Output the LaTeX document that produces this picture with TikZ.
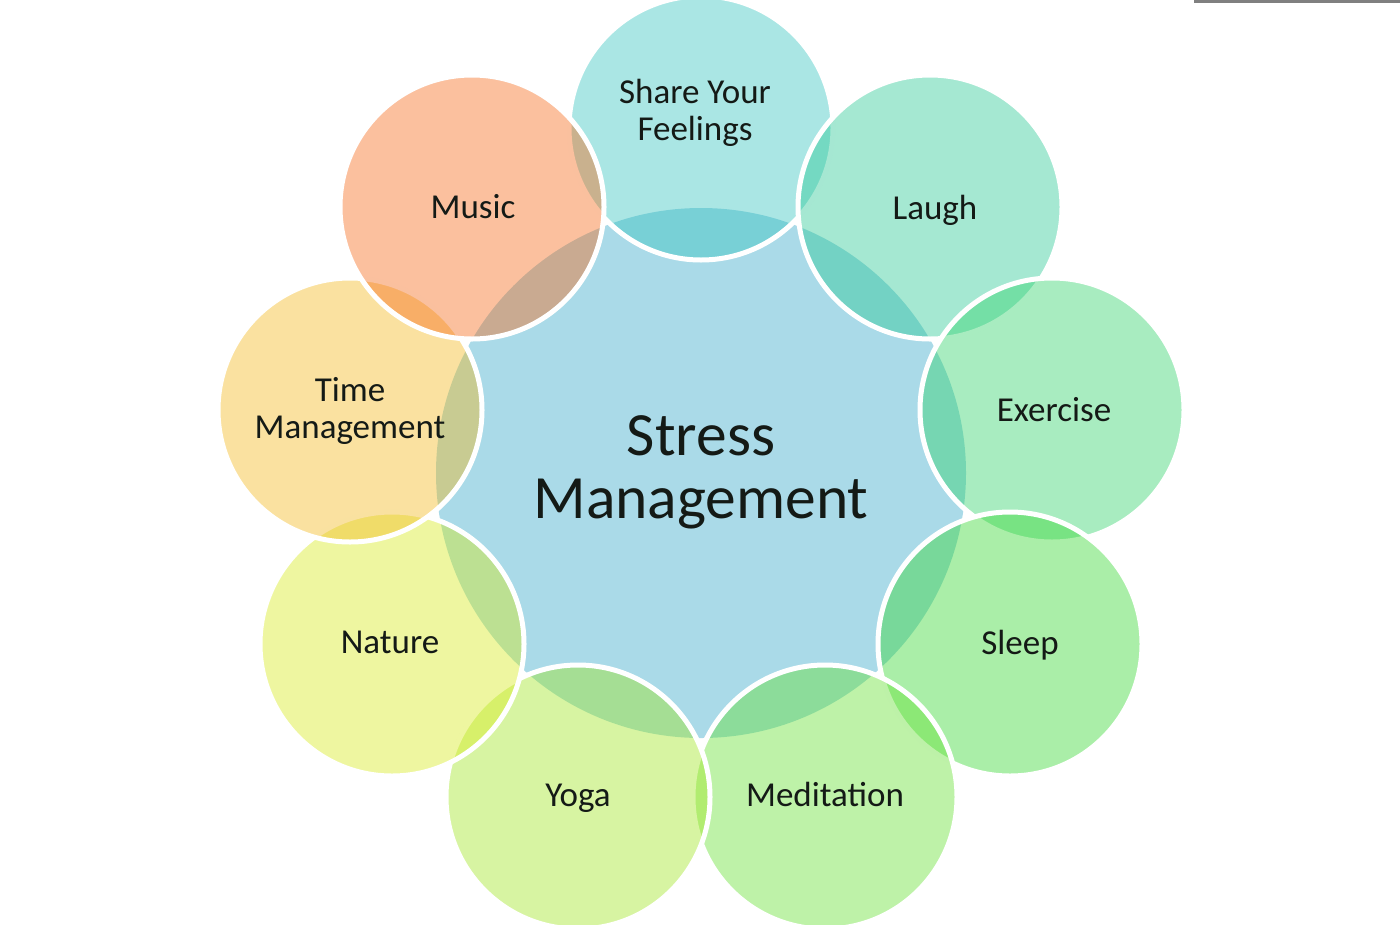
\documentclass[tikz,border=0pt]{standalone}
\usepackage{fontspec}
\setmainfont{Carlito}
\definecolor{cCenter}{RGB}{170,218,232}
\definecolor{cShare}{RGB}{53,195,191}
\definecolor{cLaugh}{RGB}{41,200,148}
\definecolor{cExercise}{RGB}{48,210,105}
\definecolor{cSleep}{RGB}{53,215,48}
\definecolor{cMed}{RGB}{100,224,48}
\definecolor{cYoga}{RGB}{160,229,34}
\definecolor{cNature}{RGB}{215,234,29}
\definecolor{cTime}{RGB}{243,184,29}
\definecolor{cMusic}{RGB}{245,105,25}
\definecolor{txt}{RGB}{20,26,22}
\definecolor{rule}{RGB}{128,128,128}
\tikzset{
  sat/.style={circle, minimum size=264pt, inner sep=0pt, fill opacity=0.42,
    draw=white, draw opacity=1, line width=5pt},
  core/.style={circle, minimum size=530pt, inner sep=0pt, fill=cCenter},
  lab/.style={text=txt, font=\fontsize{35}{37}\selectfont, inner sep=0pt, align=center},
  biglab/.style={text=txt, font=\fontsize{61.5}{63}\selectfont, inner sep=0pt, align=center},
}
\begin{document}
\begin{tikzpicture}[x=1pt,y=-1pt]
\useasboundingbox (0,0) rectangle (1400,924);
\clip (0,0) rectangle (1400,924);
\fill[rule] (1194,0) rectangle (1400,2.5);
\node[core] (center) at (701,473) {};
\node[sat, fill=cShare] (share) at (701,128) {};
\node[sat, fill=cLaugh] (laugh) at (930,207) {};
\node[sat, fill=cExercise] (exercise) at (1052,410) {};
\node[sat, fill=cSleep] (sleep) at (1010,644) {};
\node[sat, fill=cMed] (meditation) at (825,797) {};
\node[sat, fill=cYoga] (yoga) at (578,797) {};
\node[sat, fill=cNature] (nature) at (392,644) {};
\node[sat, fill=cTime] (time) at (350,410) {};
\node[sat, fill=cMusic] (music) at (472,207) {};
\node[biglab] (tCenter) at (701,472) {Stress\\Management};
\node[lab] (tShare) at (695,113) {Share Your\\Feelings};
\node[lab, anchor=base] (tLaugh) at (935,219) {Laugh};
\node[lab, anchor=base] (tExercise) at (1054,421) {Exercise};
\node[lab, anchor=base] (tSleep) at (1020,654) {Sleep};
\node[lab, anchor=base] (tMed) at (825,806) {Meditation};
\node[lab, anchor=base] (tYoga) at (578,806) {Yoga};
\node[lab, anchor=base] (tNature) at (390,653) {Nature};
\node[lab] (tTime) at (350,411) {Time\\Management};
\node[lab, anchor=base] (tMusic) at (473,218) {Music};
\end{tikzpicture}
\end{document}
